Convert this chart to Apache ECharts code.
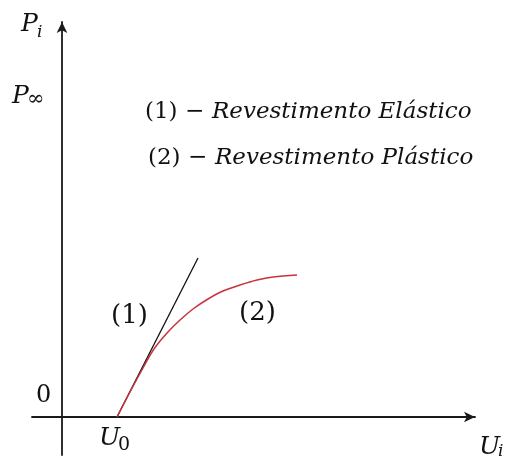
<!DOCTYPE html>
<html>
<head>
<meta charset="utf-8">
<script src="https://cdn.jsdelivr.net/npm/echarts@6/dist/echarts.min.js"></script>
<style>html,body{margin:0;padding:0;background:#fff}#c{width:506px;height:459px}</style>
</head>
<body>
<div id="c"></div>
<script>
// Curve (2) – plastic lining: displacement U vs pressure P (chart units)
const plasticU = [55, 68, 81, 92, 105, 118, 131, 146, 161, 178, 195, 211, 235];
const plasticP = [0, 25, 49, 68, 84, 97, 108, 118, 126, 132, 137, 140, 142];
// Line (1) – elastic lining
const elasticU = [55, 136];
const elasticP = [0, 159];
// Legend texts
const legendNums = ['(1) −', '(2) −'];
const legendLines = ['Revestimento Elástico', 'Revestimento Plástico'];

const chart = echarts.init(document.getElementById('c'), null, {renderer: 'canvas'});
const serif = '"DejaVu Serif", "Liberation Serif", serif';
function txt(x, y, text, size, italic, align) {
  return {type: 'text', x: x, y: y, silent: true, z: 10,
    style: {text: text, font: (italic ? 'italic ' : '') + size + 'px ' + serif,
      fill: '#111', textAlign: align || 'left', textVerticalAlign: 'middle'}};
}
const option = {
  animation: false,
  grid: {left: 32, right: 31, top: 22, bottom: 4},
  xAxis: {type: 'value', min: -30, max: 413,
    axisLine: {onZero: true, symbol: ['none', 'arrow'], symbolSize: [8, 11],
      lineStyle: {color: '#1a1a1a', width: 1.8}},
    axisTick: {show: false}, axisLabel: {show: false}, splitLine: {show: false}},
  yAxis: {type: 'value', min: -38, max: 395,
    axisLine: {onZero: true, symbol: ['none', 'arrow'], symbolSize: [8, 11],
      lineStyle: {color: '#1a1a1a', width: 1.8}},
    axisTick: {show: false}, axisLabel: {show: false}, splitLine: {show: false}},
  series: [
    {type: 'line', data: elasticU.map((u, i) => [u, elasticP[i]]), showSymbol: false,
      lineStyle: {color: '#111', width: 1.3}, z: 2},
    {type: 'line', data: plasticU.map((u, i) => [u, plasticP[i]]), smooth: 0.35, showSymbol: false,
      lineStyle: {color: '#c8323c', width: 1.5}, z: 3}
  ],
  graphic: [
    txt(21, 24, 'P', 25, true), txt(37, 33, 'i', 17, true),
    txt(12, 96, 'P', 25, true), txt(27, 100, '∞', 21, false),
    txt(145, 112, legendNums[0], 23, false), txt(212, 112, legendLines[0], 23, true),
    txt(148, 158, legendNums[1], 23, false), txt(215, 158, legendLines[1], 23, true),
    txt(111, 316, '(1)', 26, false), txt(239, 313, '(2)', 26, false),
    txt(36, 396, '0', 24, false),
    txt(99, 438, 'U', 25, true), txt(118, 445, '0', 19, false),
    txt(479, 447, 'U', 25, true), txt(498, 452, 'i', 17, true)
  ]
};
chart.setOption(option);
</script>
</body>
</html>
